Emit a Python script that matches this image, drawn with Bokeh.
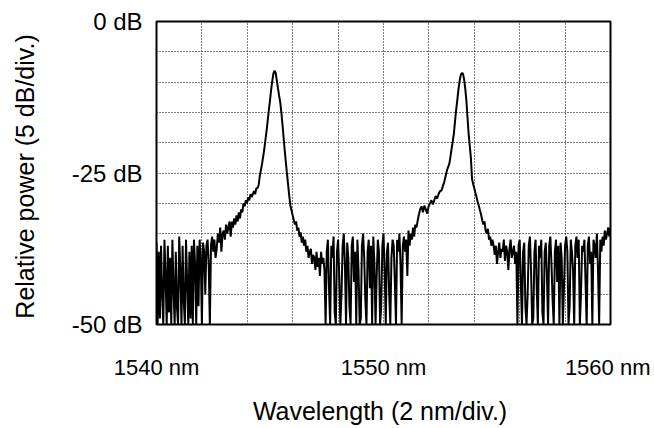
import numpy as np
from bokeh.plotting import figure
from bokeh.models import Range1d, FixedTicker
from bokeh.embed import file_html
from bokeh.resources import INLINE

# ---- data (relative power in dB, per wavelength segment) ----
seg_a_nm = (1540.00, 1542.50)
seg_a_db = [-36.5, -50, -38, -49, -37, -45, -50, -36, -42, -50, -37, -48, -39, -50, -36, -44, -50,
            -38, -47, -50, -35.5, -41, -50, -37, -46, -50, -36, -43, -50, -38, -49, -37, -50, -36,
            -40, -50, -37, -47, -36, -39, -50, -36.5, -38, -45, -37, -36, -40, -50, -37, -35.5, -38]

seg_b_nm = (1542.55, 1544.50)
seg_b_db = [-36, -39, -37.5, -35, -36.5, -34, -38, -35, -34.5, -36, -33.5, -35, -34, -33, -35.5,
            -33, -34, -32.5, -33.5, -32, -33, -31.5, -32.5, -31, -31.5, -30, -30.5, -29.5, -30,
            -29, -29.5, -28.5, -29, -28.5, -28, -28.5, -27.5, -27.5, -27]

seg_c_nm = (1544.55, 1546.50)
seg_c_db = [-25.5, -24.5, -23.5, -22.3, -21, -19.5, -18, -16.3, -14.6, -13, -11.3, -9.8, -8.6,
            -8.1, -8.5, -9.7, -11, -12.2, -13.3, -15, -17, -19.2, -21.3, -23.3, -25.2, -27, -28.8,
            -30.4, -31.2, -32, -32.8, -33.5, -33, -34.5, -34, -35.5, -34.8, -36.5, -35.5, -37]

seg_d_nm = (1546.55, 1551.50)
seg_d_db = [-36, -38, -37, -39, -38, -37.5, -40, -38.5, -39, -41, -38, -40.5, -39, -42, -38, -40,
            -39, -41, -50,
            -38, -36, -44, -50, -37, -39, -35.5, -48, -50, -38, -36, -42, -50, -45, -37, -35, -40,
            -50, -36.5, -39, -47, -50, -37, -35.5, -43, -38, -50, -36, -41, -50, -49, -37, -35, -39,
            -46, -50, -38, -36, -44, -37, -50, -35.5, -40, -50, -42, -36, -38, -50, -47, -37, -35,
            -41, -50, -38, -36.5, -45, -50, -39, -36, -37, -43, -50, -36, -38, -35, -40, -50, -37,
            -35.5, -38, -36, -42, -34.5, -37, -35, -36, -34, -35.5, -33.5, -34, -33]

seg_e_nm = (1551.55, 1552.80)
seg_e_db = [-32, -31, -30.5, -31.5, -30.4, -31, -31.7, -30.5, -30, -29.5, -30.2, -29.5, -28.8,
            -29.2, -28.5, -28, -27.9, -27.2, -26.5, -25.5, -24.5]

seg_f_nm = (1552.85, 1554.80)
seg_f_db = [-24, -23.5, -22.3, -21, -19.8, -18.5, -16.5, -14.6, -13, -11.3, -9.9, -8.9, -8.5,
            -8.6, -9.5, -11, -13, -15.8, -18.5, -20.5, -22.5, -26, -26.8, -27.5, -28.3, -29, -29.8,
            -30.4, -31.2, -31.9, -32.8, -33.5, -33, -34.5, -35, -34.2, -36, -35.5, -37, -36]

seg_g_nm = (1554.85, 1560.00)
seg_g_db = [-37, -38.5, -37, -40, -38, -36.5, -39, -37.5, -38, -36, -39.5, -37, -38, -41, -37.5,
            -36, -39, -38, -37, -40, -38, -50,
            -37, -36, -43, -50, -38, -36.5, -47, -50, -45, -37, -35.5, -41, -50, -49, -38, -36, -44,
            -50, -37, -39, -36, -48, -50, -38, -36.5, -42, -50, -37, -35.5, -40, -46, -50, -38, -36,
            -43, -37, -50, -36.5, -39, -50, -44, -37, -35.5, -38, -50, -47, -36, -38, -41, -50, -37,
            -35.5, -39, -36, -50, -45, -37, -38, -36, -43, -50, -37, -35.5, -40, -38, -50, -36, -37,
            -39, -35, -41, -50, -36, -38, -35.5, -37, -34.5, -36, -35, -34, -35.5, -34]

x_tick_values = [1540, 1550, 1560]
x_tick_labels = ["1540 nm", "1550 nm", "1560 nm"]
y_tick_values = [0, -25, -50]
y_tick_labels = ["0 dB", "-25 dB", "-50 dB"]
x_grid_values = [1540, 1542, 1544, 1546, 1548, 1550, 1552, 1554, 1556, 1558, 1560]
y_grid_values = [0, -5, -10, -15, -20, -25, -30, -35, -40, -45, -50]

segments = [(seg_a_nm, seg_a_db), (seg_b_nm, seg_b_db), (seg_c_nm, seg_c_db),
            (seg_d_nm, seg_d_db), (seg_e_nm, seg_e_db), (seg_f_nm, seg_f_db),
            (seg_g_nm, seg_g_db)]
wl = np.concatenate([np.linspace(r[0], r[1], len(v)) for r, v in segments])
pw = np.concatenate([np.array(v, dtype=float) for r, v in segments])

FONT = "Liberation Sans"

p = figure(width=650, height=428, output_backend="svg", toolbar_location=None,
           x_range=Range1d(1540, 1560), y_range=Range1d(-50, 0),
           min_border_left=156, min_border_right=40, min_border_top=21, min_border_bottom=104)
p.background_fill_color = "white"
p.border_fill_color = "white"
p.outline_line_color = "black"
p.outline_line_width = 2

# grid
p.xgrid.ticker = FixedTicker(ticks=x_grid_values)
p.ygrid.ticker = FixedTicker(ticks=y_grid_values)
for g in (p.xgrid, p.ygrid):
    g.grid_line_color = "black"
    g.grid_line_dash = "1 2"
    g.grid_line_width = 1
    g.grid_line_alpha = 1.0

p.line(wl, pw, line_color="black", line_width=2)

# axes
p.xaxis.ticker = FixedTicker(ticks=x_tick_values)
p.xaxis.major_label_overrides = {v: s for v, s in zip(x_tick_values, x_tick_labels)}
p.yaxis.ticker = FixedTicker(ticks=y_tick_values)
p.yaxis.major_label_overrides = {v: s for v, s in zip(y_tick_values, y_tick_labels)}

for ax in (p.xaxis, p.yaxis):
    ax.axis_line_color = None
    ax.major_tick_line_color = None
    ax.minor_tick_line_color = None
    ax.major_tick_out = 0
    ax.major_tick_in = 0
    ax.major_label_text_font = FONT
    ax.major_label_text_color = "black"
    ax.axis_label_text_font = FONT
    ax.axis_label_text_font_style = "normal"
    ax.axis_label_text_color = "black"
    ax.axis_label_text_font_size = "25px"

p.xaxis.major_label_text_font_size = "22px"
p.yaxis.major_label_text_font_size = "24px"
p.xaxis.major_label_standoff = 30
p.yaxis.major_label_standoff = 14
p.xaxis.axis_label = "Wavelength  (2 nm/div.)"
p.yaxis.axis_label = "Relative power  (5 dB/div.)"
p.xaxis.axis_label_standoff = 14
p.yaxis.axis_label_standoff = 30

open("out.html", "w").write(file_html(p, INLINE))
